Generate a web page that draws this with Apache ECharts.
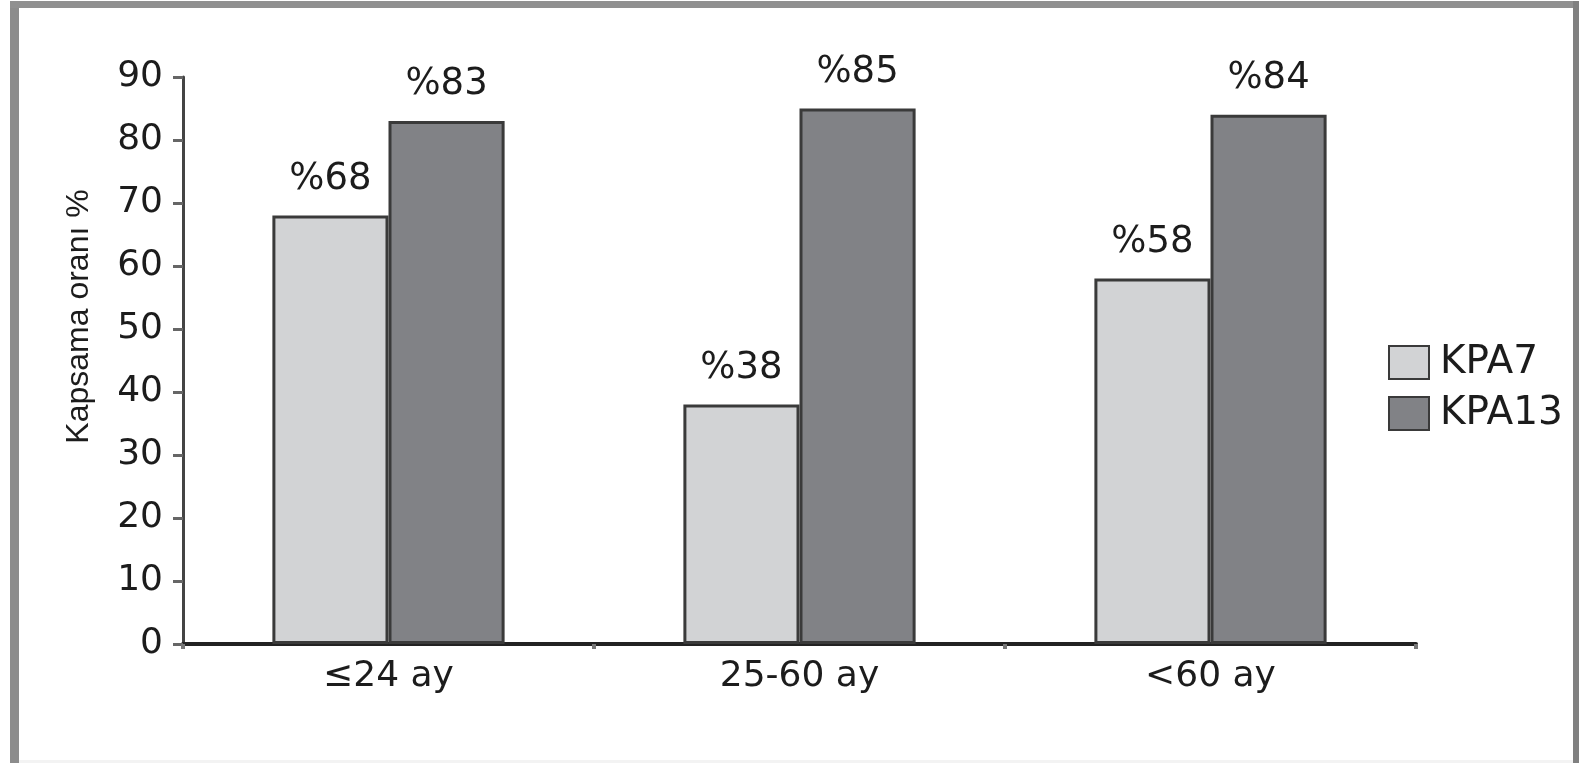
<!DOCTYPE html>
<html>
<head>
<meta charset="utf-8">
<script src="https://cdn.jsdelivr.net/npm/echarts@6/dist/echarts.min.js"></script>
<style>
  html, body { margin: 0; padding: 0; background: #fff; }
  #chart { position: absolute; left: 0; top: 0; width: 1579px; height: 763px; }
</style>
</head>
<body>
<div id="chart"></div>
<script>
// Age groups on the x axis
const categories = ['≤24 ay', '25-60 ay', '<60 ay'];
// Coverage (%) per vaccine
const kpa7 = [68, 38, 58];
const kpa13 = [83, 85, 84];
const seriesNames = ['KPA7', 'KPA13'];
// Value axis
const yMin = 0, yMax = 90, yStep = 10;
const yAxisTitle = 'Kapsama oranı %';

const textColor = '#1c1c1c';
const edge = '#3a3a3a';

const chart = echarts.init(document.getElementById('chart'), null, { renderer: 'canvas' });

function barSeries(name, data, fill) {
  return {
    name: name,
    type: 'bar',
    data: data,
    barGap: '0%',
    barCategoryGap: '43.5%',
    itemStyle: { color: fill, borderColor: edge, borderWidth: 3 },
    label: {
      show: true,
      position: 'top',
      distance: 18,
      formatter: p => '%' + p.value,
      fontFamily: 'DejaVu Sans',
      fontSize: 37,
      color: textColor
    }
  };
}

chart.setOption({
  animation: false,
  backgroundColor: '#ffffff',
  grid: { left: 183, right: 163, top: 77, bottom: 119, containLabel: false },
  legend: {
    data: seriesNames,
    orient: 'vertical',
    left: 1383,
    top: 338,
    icon: 'rect',
    itemWidth: 40,
    itemHeight: 33,
    itemGap: 12,
    textStyle: {
      fontFamily: 'DejaVu Sans',
      fontSize: 39,
      color: textColor,
      padding: [0, 0, 0, 6]
    }
  },
  xAxis: {
    type: 'category',
    data: categories,
    axisLine: { lineStyle: { color: '#222', width: 4 } },
    axisTick: { show: true, alignWithLabel: false, length: 5, lineStyle: { color: '#777', width: 4 } },
    axisLabel: {
      margin: 15,
      fontFamily: 'DejaVu Sans',
      fontSize: 36,
      color: textColor
    },
    splitLine: { show: false }
  },
  yAxis: {
    type: 'value',
    min: yMin,
    max: yMax,
    interval: yStep,
    name: yAxisTitle,
    nameLocation: 'middle',
    nameGap: 88,
    nameRotate: 90,
    nameTextStyle: {
      fontFamily: 'Liberation Sans',
      fontSize: 32,
      color: textColor,
      padding: [0, 0, 0, 88]
    },
    axisLine: { show: true, lineStyle: { color: '#444', width: 3 } },
    axisTick: { show: true, length: 10, lineStyle: { color: '#666', width: 3 } },
    axisLabel: {
      margin: 20,
      fontFamily: 'DejaVu Sans',
      fontSize: 36,
      color: textColor
    },
    splitLine: { show: false }
  },
  graphic: [
    // picture frame
    { type: 'rect', shape: { x: 10, y: 1, width: 9, height: 762 }, style: { fill: '#8c8c8c' }, silent: true },
    { type: 'rect', shape: { x: 10, y: 1, width: 1569, height: 7 }, style: { fill: '#909090' }, silent: true },
    { type: 'rect', shape: { x: 1573, y: 1, width: 6, height: 762 }, style: { fill: '#808080' }, silent: true },
    { type: 'rect', shape: { x: 19, y: 760, width: 1554, height: 3 }, style: { fill: '#f3f3f3' }, silent: true }
  ],
  series: [
    barSeries(seriesNames[0], kpa7, '#d2d3d5'),
    barSeries(seriesNames[1], kpa13, '#818286')
  ]
});
</script>
</body>
</html>
